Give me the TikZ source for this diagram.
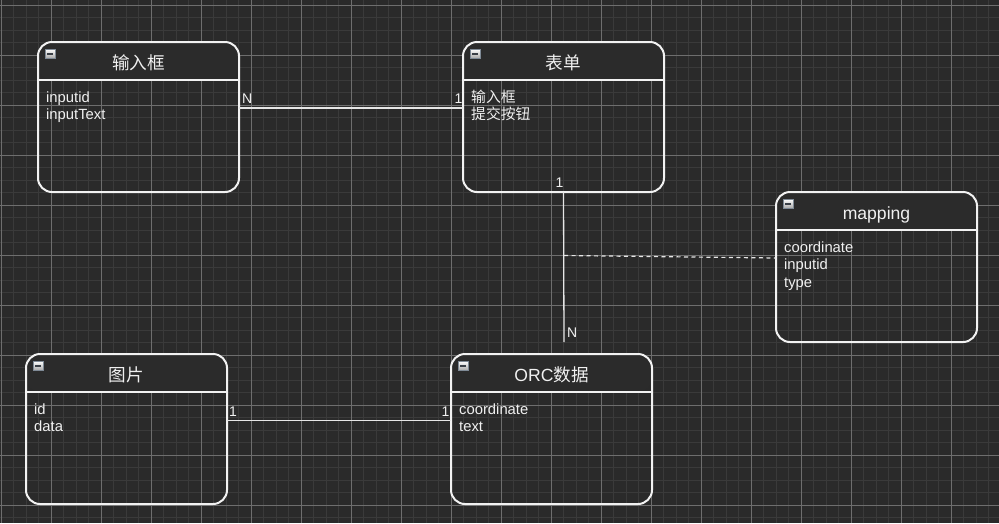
\documentclass[tikz,border=0pt]{standalone}
\usepackage{fontspec}
\setmainfont{Liberation Sans}
\newfontfamily\cjk{Noto Sans CJK SC}
\definecolor{bg}{HTML}{2A2A2A}
\definecolor{gridminor}{HTML}{3A3A3A}
\definecolor{gridmajor}{HTML}{6E6E6E}
\definecolor{headfill}{HTML}{2B2B2B}
\definecolor{boxcol}{HTML}{F2F2F2}
\definecolor{txt}{HTML}{F0F0F0}
\definecolor{linecol}{HTML}{E6E6E6}
\definecolor{iconedge}{HTML}{7F8A96}
\definecolor{icondash}{HTML}{3A3F46}
\newcommand\attrfont{\fontsize{14.8}{17.5}\selectfont}
\newcommand\titlefont{\fontsize{17.6}{20}\selectfont}
\tikzset{
  entitybox/.style={anchor=north west, minimum width=201pt, minimum height=150pt,
    inner sep=0pt, outer sep=0pt, draw=boxcol, line width=2pt, rounded corners=14pt,
    path picture={
      \fill[headfill] (path picture bounding box.north west) rectangle ([yshift=-38pt]path picture bounding box.north east);
      \draw[boxcol, line width=2pt] ([yshift=-38pt]path picture bounding box.north west) -- ([yshift=-38pt]path picture bounding box.north east);
    }},
  icon/.style={anchor=north west, draw=iconedge, line width=0.6pt, top color=white, bottom color=black!35,
    minimum width=10pt, minimum height=9.5pt, inner sep=0pt, outer sep=0pt,
    path picture={\draw[icondash, line width=1.6pt] ([xshift=2pt]path picture bounding box.west) -- ([xshift=-2pt]path picture bounding box.east);}},
  titletext/.style={anchor=base, inner sep=0pt, font=\titlefont, text=txt},
  attr/.style={anchor=base west, inner sep=0pt, font=\attrfont, text=txt},
  lab/.style={inner sep=0pt, font=\fontsize{14}{16}\selectfont, text=txt},
  conn/.style={draw=linecol, line width=1.3pt},
  dconn/.style={draw=linecol, line width=1.2pt, dash pattern=on 4pt off 3.5pt},
}
\newcommand\mkentity[4]{%
  \node[entitybox] (#1) at (#2,#3) {};
  \node[icon] (#1-icon) at ([xshift=7pt,yshift=-7pt]#1.north west) {};
  \node[titletext] (#1-title) at ([yshift=-27.5pt]#1.north) {#4};
}
\newcommand\mkattr[4]{% name, entity, line index, text
  \node[attr] (#1) at ([xshift=8pt,yshift={-60pt-17.5pt*#3}]#2.north west) {#4};
}
\begin{document}
\begin{tikzpicture}[x=1pt,y=-1pt]
\fill[bg] (0,0) rectangle (999,523);
\useasboundingbox (0,0) rectangle (999,523);
% grid
\foreach \i in {0,...,79} {\draw[gridminor, line width=1.2pt] ({1.3+12.5*\i},0) -- ({1.3+12.5*\i},523);}
\foreach \i in {0,...,41} {\draw[gridminor, line width=1.2pt] (0,{5.3+12.5*\i}) -- (999,{5.3+12.5*\i});}
\foreach \i in {0,...,19} {\draw[gridmajor, line width=0.9pt] ({1.3+50*\i},0) -- ({1.3+50*\i},523);}
\foreach \i in {0,...,10} {\draw[gridmajor, line width=0.9pt] (0,{5.3+50*\i}) -- (999,{5.3+50*\i});}
% entities
\mkentity{inp}{38}{42}{\cjk 输入框}
\mkattr{inp-a1}{inp}{0}{inputid}
\mkattr{inp-a2}{inp}{1}{inputText}
\mkentity{form}{463}{42}{\cjk 表单}
\mkattr{form-a1}{form}{0}{\cjk 输入框}
\mkattr{form-a2}{form}{1}{\cjk 提交按钮}
\mkentity{map}{776}{192}{mapping}
\mkattr{map-a1}{map}{0}{coordinate}
\mkattr{map-a2}{map}{1}{inputid}
\mkattr{map-a3}{map}{2}{type}
\mkentity{pic}{26}{354}{\cjk 图片}
\mkattr{pic-a1}{pic}{0}{id}
\mkattr{pic-a2}{pic}{1}{data}
\mkentity{orc}{451}{354}{ORC{\cjk 数据}}
\mkattr{orc-a1}{orc}{0}{coordinate}
\mkattr{orc-a2}{orc}{1}{text}
% connectors
\draw[conn] ([yshift=9pt]inp.east) -- ([yshift=9pt]form.west);
\node[lab, anchor=base west] (l1) at (242,103) {N};
\node[lab, anchor=base east] (l2) at (462.5,103) {1};
\coordinate (vend) at (564,342);
\coordinate (dstart) at (564,255.5);
\draw[conn] (form.south) -- (vend);
\node[lab, anchor=base east] (l3) at (563.5,187) {1};
\node[lab, anchor=base west] (l4) at (567,337) {N};
\draw[dconn] (dstart) -- ([yshift=9pt]map.west);
\draw[conn] ([yshift=8.5pt]pic.east) -- ([yshift=8.5pt]orc.west);
\node[lab, anchor=base west] (l5) at (229,416) {1};
\node[lab, anchor=base east] (l6) at (449.5,416) {1};
\end{tikzpicture}
\end{document}
